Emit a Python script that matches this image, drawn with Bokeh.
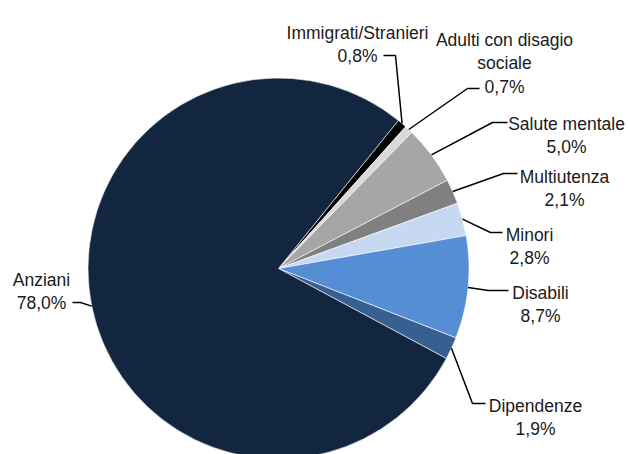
import math
from bokeh.plotting import figure
from bokeh.models import Range1d
from bokeh.core.properties import value
from bokeh.embed import file_html
from bokeh.resources import INLINE

# ---- data (clockwise order starting at the top-right) ----
categories = ["Immigrati/Stranieri", "Adulti con disagio sociale", "Salute mentale",
              "Multiutenza", "Minori", "Disabili", "Dipendenze", "Anziani"]
shares = [0.8, 0.7, 5.0, 2.1, 2.8, 8.7, 1.9, 78.0]
colors = ["#000000", "#D9D9D9", "#A6A6A6", "#808080", "#C6D9F1", "#558ED5", "#376091", "#13263F"]
label_lines = [["Immigrati/Stranieri"], ["Adulti con disagio", "sociale"], ["Salute mentale"],
               ["Multiutenza"], ["Minori"], ["Disabili"], ["Dipendenze"], ["Anziani"]]

# ---- layout (page pixel coordinates) ----
W, H = 628, 454
CX, CY, R = 278, 268, 190.5
START_DEG = 51.0
# elbow point, end point of leader, label centre x, first baseline y
leaders = [
    ((395, 55), (383, 55), 357, 32),
    ((467, 88), (479, 88), 504, 39),
    ((492, 122), (507, 122), 566, 123),
    ((503, 173), (517, 173), 564, 176),
    ((490, 232), (502, 232), 529, 234),
    ((488, 290), (508, 290), 540, 292),
    ((472, 403), (485, 403), 535, 405),
    ((80, 302), (72, 302), 41, 279),
]
LINE_H = 23.5
FONT = "Liberation Sans"
FSIZE = "17.5px"


def px(x):
    return x


def py(y):
    return H - y


p = figure(width=W, height=H, output_backend="svg", toolbar_location=None,
           x_range=Range1d(0, W), y_range=Range1d(0, H), min_border=0)
p.axis.visible = False
p.grid.visible = False
p.outline_line_color = None
p.background_fill_color = "white"

total = sum(shares)
cum = 0.0
starts, ends, mids = [], [], []
for s in shares:
    end = math.radians(START_DEG) - cum / total * 2 * math.pi
    start = end - s / total * 2 * math.pi
    starts.append(start)
    ends.append(end)
    mids.append((start + end) / 2)
    cum += s

p.wedge(x=[px(CX)] * len(shares), y=[py(CY)] * len(shares), radius=R,
        start_angle=starts, end_angle=ends, direction="anticlock",
        fill_color=colors, line_color="white", line_width=0.6)

for i, (cat, s) in enumerate(zip(categories, shares)):
    elbow, endp, tx, ty = leaders[i]
    sx = CX + R * math.cos(mids[i])
    sy = CY - R * math.sin(mids[i])
    p.line(x=[px(sx), px(elbow[0]), px(endp[0])], y=[py(sy), py(elbow[1]), py(endp[1])],
           line_color="black", line_width=1.5)
    lines = label_lines[i] + [("%.1f" % s).replace(".", ",") + "%"]
    for k, t in enumerate(lines):
        p.text(x=[px(tx)], y=[py(ty + k * LINE_H)], text=[t], text_align="center",
               text_baseline="alphabetic", text_font=value(FONT), text_font_size=FSIZE,
               text_color="#1a1a1a")

open("out.html", "w").write(file_html(p, INLINE))
